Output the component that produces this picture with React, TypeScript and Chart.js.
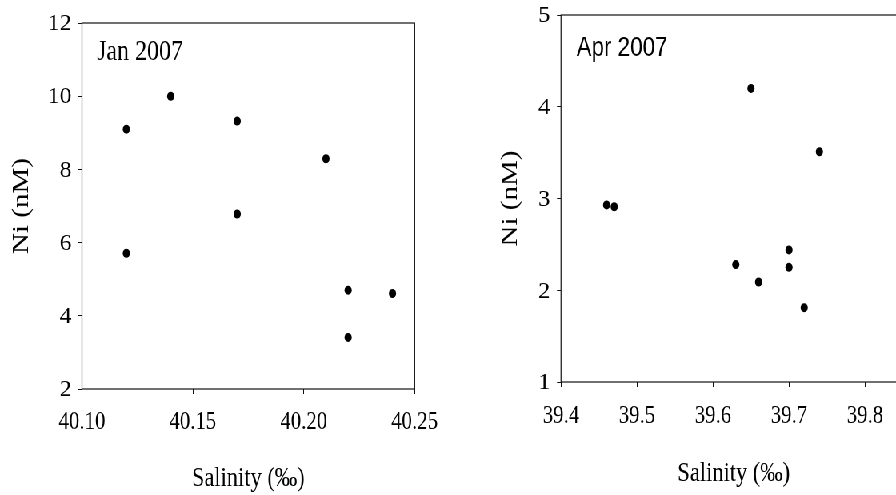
import React, { useEffect, useRef } from 'react';
import { Chart, registerables } from 'chart.js';

Chart.register(...registerables);

// ---- data ----
const janSalinity = [40.12, 40.14, 40.17, 40.21, 40.17, 40.12, 40.22, 40.24, 40.22];
const janNi = [9.1, 10.0, 9.32, 8.29, 6.78, 5.71, 4.7, 4.61, 3.41];
const aprSalinity = [39.46, 39.47, 39.65, 39.74, 39.7, 39.63, 39.66, 39.7, 39.72];
const aprNi = [2.93, 2.91, 4.2, 3.51, 2.44, 2.28, 2.09, 2.25, 1.81];

const janXTicks = [40.1, 40.15, 40.2, 40.25];
const janYTicks = [2, 4, 6, 8, 10, 12];
const aprXTicks = [39.4, 39.5, 39.6, 39.7, 39.8, 39.9];
const aprYTicks = [1, 2, 3, 4, 5];

const janLabel = 'Jan 2007';
const aprLabel = 'Apr 2007';
const xTitle = 'Salinity (‰)';
const yTitle = 'Ni (nM)';

// ---- styles ----
const SX = 0.8; // horizontal compression of the whole picture
const SERIF = '"Liberation Serif", "Times New Roman", serif';
const SANS = '"Liberation Sans", Arial, sans-serif';

const framePlugin = {
  id: 'frame',
  afterDraw(chart: any, _args: any, opts: any) {
    const { ctx, chartArea: a } = chart;
    ctx.save();
    ctx.strokeStyle = '#111';
    ctx.lineWidth = 1.2;
    ctx.strokeRect(a.left, a.top, a.right - a.left, a.bottom - a.top);
    ctx.fillStyle = '#000';
    ctx.textAlign = 'left';
    ctx.textBaseline = 'alphabetic';
    ctx.font = opts.labelFont;
    ctx.fillText(opts.label, a.left + opts.labelDx, a.top + opts.labelDy);
    if (opts.xTitle) {
      ctx.font = opts.xTitleFont;
      ctx.textAlign = 'center';
      ctx.textBaseline = 'middle';
      ctx.fillText(opts.xTitle, a.left + opts.xTitleDx, opts.xTitleY);
    }
    // y tick labels: drawn without the horizontal compression
    const ys = chart.scales.y;
    ctx.font = `24px ${SERIF}`;
    ctx.textAlign = 'right';
    ctx.textBaseline = 'middle';
    for (const v of opts.yTicks) {
      const py = ys.getPixelForValue(v);
      ctx.save();
      ctx.translate(a.left - opts.yLabelGap, py + 1);
      ctx.scale(1 / SX, 1);
      ctx.fillText(String(v), 0, 0);
      ctx.restore();
    }
    // y axis title
    ctx.save();
    ctx.font = `29px ${SERIF}`;
    ctx.textAlign = 'center';
    ctx.textBaseline = 'middle';
    ctx.translate(opts.yTitleX, (a.top + a.bottom) / 2);
    ctx.rotate(-Math.PI / 2);
    ctx.fillText(yTitle, 0, 0);
    ctx.restore();
    ctx.restore();
  },
};

function makeConfig(p: any) {
  return {
    type: 'scatter',
    data: {
      datasets: [
        {
          data: p.xs.map((x: number, i: number) => ({ x, y: p.ys[i] })),
          backgroundColor: '#000',
          borderColor: '#000',
          pointRadius: 4.5,
          pointHoverRadius: 4.5,
          pointBorderWidth: 0,
          borderWidth: 0,
          showLine: false,
        },
      ],
    },
    options: {
      responsive: false,
      animation: false,
      events: [],
      layout: { padding: p.padding },
      plugins: {
        legend: { display: false },
        tooltip: { enabled: false },
        frame: { ...p.frame, yTicks: p.yTicks },
      },
      scales: {
        x: {
          type: 'linear',
          position: 'bottom',
          min: p.xTicks[0],
          max: p.xTicks[p.xTicks.length - 1],
          afterFit: (s: any) => {
            s.height = p.xHeight;
          },
          afterBuildTicks: (s: any) => {
            s.ticks = p.xTicks.map((v: number) => ({ value: v }));
          },
          ticks: {
            autoSkip: false,
            maxRotation: 0,
            minRotation: 0,
            padding: p.xTickPad,
            color: '#000',
            font: { family: SERIF, size: 26 },
            callback: (v: any) => Number(v).toFixed(p.xDecimals),
          },
          grid: { drawOnChartArea: false, drawTicks: true, tickLength: 5, color: '#111', lineWidth: 1 },
          border: { display: false },
          title: {
            display: p.showXTitle,
            text: xTitle,
            color: '#000',
            font: { family: SERIF, size: 28 },
            padding: { top: 0, bottom: 0 },
          },
        },
        y: {
          type: 'linear',
          position: 'left',
          min: p.yTicks[0],
          max: p.yTicks[p.yTicks.length - 1],
          afterFit: (s: any) => {
            s.width = p.yWidth;
          },
          afterBuildTicks: (s: any) => {
            s.ticks = p.yTicks.map((v: number) => ({ value: v }));
          },
          ticks: { display: false },
          grid: { drawOnChartArea: false, drawTicks: true, tickLength: 5, color: '#111', lineWidth: 1 },
          border: { display: false },
          title: { display: false },
        },
      },
    },
    plugins: [framePlugin],
  };
}

function ScatterPanel({ config, width, height }: { config: any; width: number; height: number }) {
  const ref = useRef<HTMLCanvasElement | null>(null);
  useEffect(() => {
    if (!ref.current) return;
    const chart = new Chart(ref.current, config);
    return () => chart.destroy();
  }, [config]);
  return <canvas ref={ref} width={width} height={height} style={{ display: 'block', width, height }} />;
}

const janConfig = makeConfig({
  xs: janSalinity,
  ys: janNi,
  xTicks: janXTicks,
  yTicks: janYTicks,
  xDecimals: 2,
  padding: { left: 0, right: 31.25, top: 23, bottom: 0 },
  xHeight: 106,
  yWidth: 102.5,
  xTickPad: 12.4,
  showXTitle: true,
  frame: {
    label: janLabel,
    labelFont: `30px ${SERIF}`,
    labelDx: 18.75,
    labelDy: 37,
    yLabelGap: 12.9,
    yTitleX: 27,
  },
});

const aprConfig = makeConfig({
  xs: aprSalinity,
  ys: aprNi,
  xTicks: aprXTicks,
  yTicks: aprYTicks,
  xDecimals: 1,
  padding: { left: 0, right: 43.75, top: 15, bottom: 0 },
  xHeight: 113,
  yWidth: 101.25,
  xTickPad: 13.4,
  showXTitle: false,
  frame: {
    label: aprLabel,
    labelFont: `28px ${SANS}`,
    labelDx: 19.5,
    labelDy: 41,
    yLabelGap: 13.5,
    yTitleX: 38.75,
    xTitle: xTitle,
    xTitleFont: `28px ${SERIF}`,
    xTitleDx: 216,
    xTitleY: 473.5,
  },
});

export default function App() {
  return (
    <div
      style={{
        position: 'fixed',
        left: 0,
        top: 0,
        width: 896,
        height: 495,
        overflow: 'hidden',
        background: '#fff',
      }}
    >
      <div
        style={{
          position: 'absolute',
          left: 0,
          top: 0,
          width: 896 / SX,
          height: 495,
          transform: `scaleX(${SX})`,
          transformOrigin: '0 0',
        }}
      >
        <div style={{ position: 'absolute', left: 0, top: 0 }}>
          <ScatterPanel config={janConfig} width={560} height={495} />
        </div>
        <div style={{ position: 'absolute', left: 600, top: 0 }}>
          <ScatterPanel config={aprConfig} width={620} height={495} />
        </div>
      </div>
    </div>
  );
}
